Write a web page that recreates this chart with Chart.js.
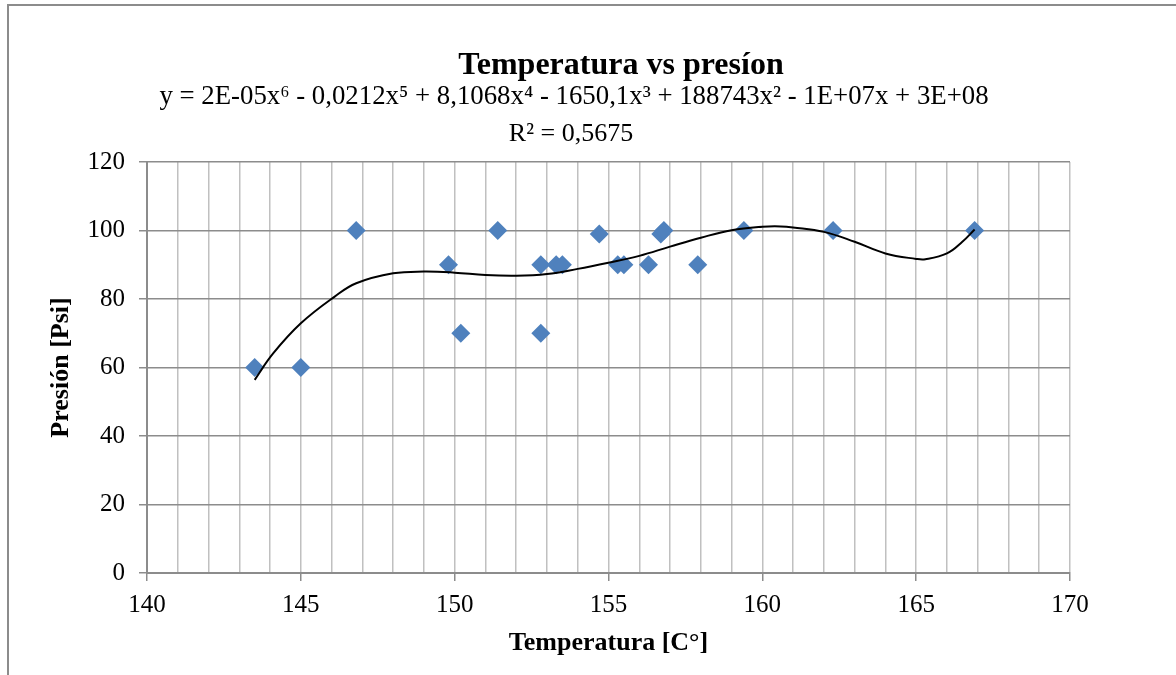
<!DOCTYPE html>
<html>
<head>
<meta charset="utf-8">
<script src="https://cdn.jsdelivr.net/npm/chart.js@4"></script>
<style>
  html, body { margin: 0; padding: 0; background: #fff; overflow: hidden; }
  #wrap  { position: absolute; left: 0; top: 0; width: 1176px; height: 675px; }
  #frame { position: absolute; left: 7px; top: 4px; width: 1300px; height: 800px;
           border-left: 2px solid #8c8c8c; border-top: 2px solid #8c8c8c; }
</style>
</head>
<body>
<div id="frame"></div>
<div id="wrap"><canvas id="chart"></canvas></div>
<script>
const temps = [143.5, 145.0, 146.8, 149.8, 150.2, 151.4, 152.8, 152.8, 153.3, 153.5,
               154.7, 155.3, 155.5, 156.3, 156.7, 156.8, 157.9, 159.4, 162.3, 166.9];
const press = [60, 60, 100, 90, 70, 100, 90, 70, 90, 90,
               99, 90, 90, 90, 99, 100, 90, 100, 100, 100];

// trend line
const trendX = [143.5, 144.1, 145.0, 146.1, 146.8, 148.0, 149.0, 150.0, 151.0, 152.0,
                153.0, 154.0, 155.0, 156.0, 157.0, 158.0, 159.0, 160.0, 160.6, 161.0,
                162.0, 163.0, 164.0, 165.0, 165.3, 166.0, 166.5, 166.9];
const trendY = [56.4, 64.1, 72.9, 80.7, 84.6, 87.5, 88.0, 87.7, 87.0, 86.8,
                87.3, 88.8, 90.6, 92.6, 95.3, 97.9, 100.1, 101.1, 101.2, 100.9,
                99.6, 96.7, 93.3, 91.7, 91.6, 93.3, 96.7, 100.3];

const TITLE    = "Temperatura vs presíon";
const EQUATION = "y = 2E-05x⁶ - 0,0212x⁵ + 8,1068x⁴ - 1650,1x³ + 188743x² - 1E+07x + 3E+08";
const R2_TEXT  = "R² = 0,5675";
const X_TITLE  = "Temperatura [C°]";
const Y_TITLE  = "Presión [Psi]";

const SERIF = "'Liberation Serif', 'Times New Roman', serif";

// chart title and the trendline label sit off-centre in the original, so draw them by hand
const headerText = {
  id: "headerText",
  afterDraw(chart) {
    const ctx = chart.ctx;
    ctx.save();
    ctx.fillStyle = "#000";
    ctx.textAlign = "center";
    ctx.textBaseline = "alphabetic";
    ctx.font = "bold 32px " + SERIF;
    ctx.fillText(TITLE, 621, 74);
    ctx.font = "26.8px " + SERIF;
    ctx.fillText(EQUATION, 574, 104);
    ctx.font = "26px " + SERIF;
    ctx.fillText(R2_TEXT, 571, 141);
    ctx.restore();
  },
};

new Chart(document.getElementById("chart"), {
  type: "scatter",
  data: {
    datasets: [
      {
        label: "trend",
        data: trendX.map((x, i) => ({ x, y: trendY[i] })),
        showLine: true,
        borderColor: "#000",
        borderWidth: 2,
        pointRadius: 0,
        tension: 0.4,
        order: 0,
      },
      {
        label: "Presión",
        data: temps.map((x, i) => ({ x, y: press[i] })),
        pointStyle: "rectRot",
        pointRadius: 9.5,
        backgroundColor: "#4f81bd",
        borderColor: "#4f81bd",
        borderWidth: 0,
        order: 1,
      },
    ],
  },
  options: {
    responsive: true,
    maintainAspectRatio: false,
    animation: false,
    layout: { padding: { left: 42, right: 106, top: 162, bottom: 12 } },
    plugins: {
      legend: { display: false },
      tooltip: { enabled: false },
      title: { display: false },
    },
    scales: {
      x: {
        type: "linear",
        min: 140,
        max: 170,
        afterFit: s => { s.height = 90; },
        border: { color: "#8c8c8c", width: 2 },
        grid: {
          color: "#c0c0c0",
          lineWidth: 1.5,
          tickLength: 8,
          tickColor: c => (c.tick && c.tick.value % 5 === 0 ? "#8c8c8c" : "rgba(0,0,0,0)"),
        },
        ticks: {
          stepSize: 1,
          autoSkip: false,
          maxRotation: 0,
          padding: 9,
          color: "#000",
          font: { family: SERIF, size: 25 },
          callback: v => (v % 5 === 0 ? v : ""),
        },
        title: {
          display: true,
          text: X_TITLE,
          color: "#000",
          font: { family: SERIF, size: 26, weight: "bold" },
        },
      },
      y: {
        min: 0,
        max: 120,
        afterFit: s => { s.width = 105; },
        border: { color: "#8c8c8c", width: 2 },
        grid: {
          color: "#8c8c8c",
          lineWidth: 1.5,
          tickLength: 8,
          tickColor: "#8c8c8c",
        },
        ticks: {
          stepSize: 20,
          padding: 14,
          color: "#000",
          font: { family: SERIF, size: 25 },
        },
        title: {
          display: true,
          text: Y_TITLE,
          color: "#000",
          font: { family: SERIF, size: 26, weight: "bold" },
        },
      },
    },
  },
  plugins: [headerText],
});
</script>
</body>
</html>
